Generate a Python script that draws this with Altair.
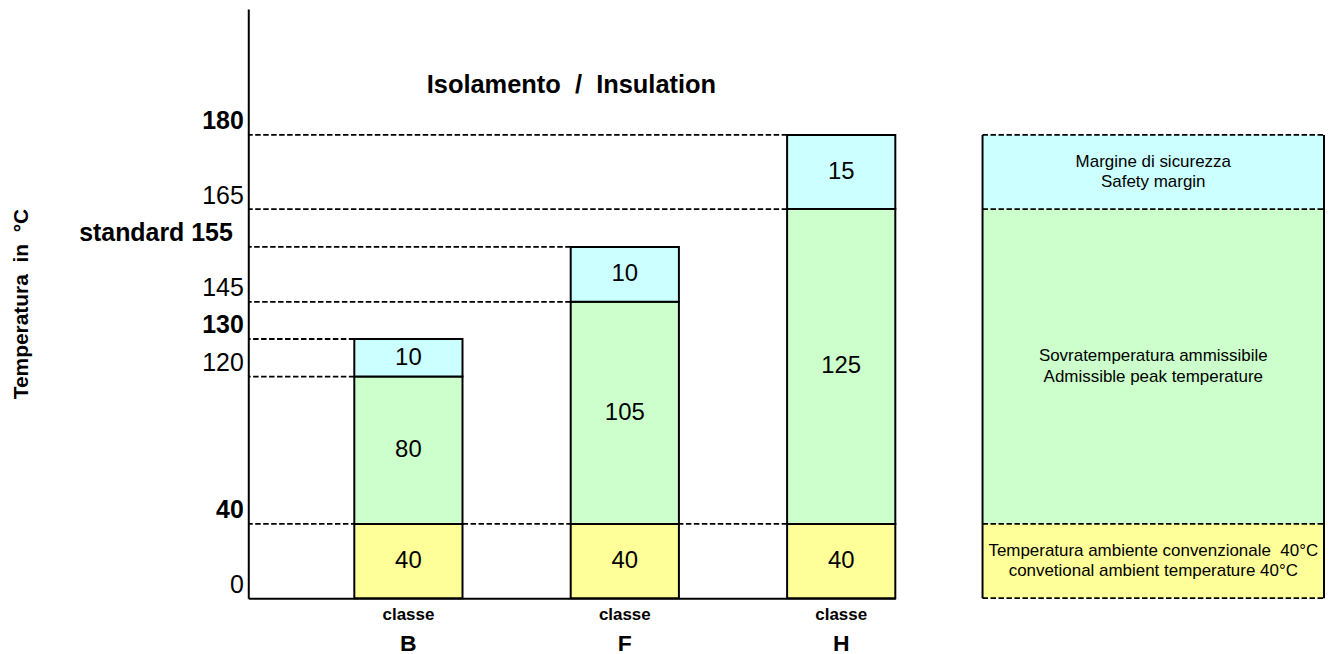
import altair as alt
import pandas as pd

# ---------------- data ----------------
categories = ["B", "F", "H"]
ambient = [40, 40, 40]
peak = [80, 105, 125]
margin = [10, 10, 15]

segment_names = ["ambient", "peak", "margin"]
segment_colors = ["#FFFF99", "#CCFFCC", "#CCFFFF"]

legend_texts = [
    ["Temperatura ambiente convenzionale\u00a0\u00a040°C", "convetional ambient temperature 40°C"],
    ["Sovratemperatura ammissibile", "Admissible peak temperature"],
    ["Margine di sicurezza", "Safety margin"],
]

tick_values = [0, 40, 120, 130, 145, 155, 165, 180]
bold_ticks = [40, 130, 155, 180]
tick_label_overrides = {155: "standard 155"}

y_title = "Temperatura\u00a0\u00a0in\u00a0\u00a0°C"
chart_title = "Isolamento\u00a0\u00a0/\u00a0\u00a0Insulation"
x_label_top = "classe"

# ---------------- tables ----------------
rows = []
for i, cat in enumerate(categories):
    start = 0
    for seg, val in zip(segment_names, [ambient[i], peak[i], margin[i]]):
        rows.append({"cat": cat, "seg": seg, "start": start, "end": start + val, "val": val})
        start += val
bars_df = pd.DataFrame(rows)

rules_df = (bars_df[["end", "cat"]].rename(columns={"end": "level", "cat": "stop"})
            .drop_duplicates("level", keep="last"))

last = bars_df[bars_df["cat"] == categories[-1]].reset_index(drop=True)
legend_df = last[["seg", "start", "end"]].copy()
legend_df["lines"] = legend_texts
legend_levels = pd.DataFrame({"level": [0] + list(last["end"])})
legend_sides = pd.DataFrame({"side": [0, 1], "lo": [0, 0], "hi": [last["end"].max()] * 2})

# ---------------- styling / scales ----------------
FONT = "Liberation Sans, Arial, sans-serif"
DASH = [5.5, 2.5]

yscale = alt.Scale(
    domain=[0, 40, 120, 130, 145, 155, 165, 180, 205],
    range=[591, 516.5, 368.7, 331, 293.7, 238.7, 200.7, 126.3, 0],
    zero=False, nice=False,
)
xscale = alt.Scale(domain=categories, range=[0, 649], paddingInner=0.5,
                   paddingOuter=0.245, align=1)
lscale = alt.Scale(domain=[0, 1], range=[736.5, 1079], zero=False, nice=False)
cscale = alt.Scale(domain=segment_names, range=segment_colors)

bold_test = " || ".join(f"datum.value == {v}" for v in bold_ticks)
override_test = " || ".join(f"datum.value == {k}" for k in tick_label_overrides)
label_expr = "datum.label"
for k, v in tick_label_overrides.items():
    label_expr = f"datum.value == {k} ? '{v}' : ({label_expr})"

yaxis = alt.Axis(
    values=tick_values, title=y_title, titleFont=FONT, titleFontSize=21,
    titleFontWeight="bold", titleColor="black", titlePadding=47, orient="left",
    labelExpr=label_expr, labelFont=FONT, labelFontSize=25, labelColor="black",
    labelFontWeight={"condition": {"test": bold_test, "value": "bold"}, "value": "normal"},
    labelPadding={"condition": {"test": override_test, "value": 16}, "value": 5},
    labelBaseline="alphabetic", labelOffset=-6, labelOverlap=False,
    labelBound=False, ticks=False, grid=False, domainColor="black", domainWidth=2,
)
classe_axis = alt.Axis(
    title=None, labelExpr=f"'{x_label_top}'", labelFont=FONT, labelFontSize=17,
    labelFontWeight="bold", labelColor="black", labelPadding=8, labelAngle=0,
    ticks=False, grid=False, domainColor="black", domainWidth=2, orient="bottom",
)
letter_axis = alt.Axis(
    title=None, labelFont=FONT, labelFontSize=23, labelFontWeight="bold",
    labelColor="black", labelPadding=5, offset=29, labelAngle=0,
    ticks=False, grid=False, domain=False, orient="bottom",
)
mid_expr = "(scale('y', datum.start) + scale('y', datum.end)) / 2"

# ---------------- left panel ----------------
rules = alt.Chart(rules_df).mark_rule(color="black", strokeWidth=1.8, strokeDash=DASH).encode(
    x=alt.X("stop:N", scale=xscale, bandPosition=0, axis=None),
    x2=alt.value(0),
    y=alt.Y("level:Q", scale=yscale, axis=yaxis),
)
bars = alt.Chart(bars_df).mark_bar(stroke="black", strokeWidth=2, opacity=1).encode(
    x=alt.X("cat:N", scale=xscale, axis=classe_axis),
    y=alt.Y("start:Q", scale=yscale, axis=yaxis),
    y2="end:Q",
    color=alt.Color("seg:N", scale=cscale, legend=None),
)
labels = alt.Chart(bars_df).mark_text(font=FONT, fontSize=24, color="black",
                                      align="center", baseline="middle").encode(
    x=alt.X("cat:N", scale=xscale, axis=letter_axis),
    y={"value": {"expr": mid_expr}},
    text=alt.Text("val:Q", format="d"),
)
left = alt.layer(rules, bars, labels).resolve_axis(x="independent")

# ---------------- legend panel ----------------
lrects = alt.Chart(legend_df).mark_rect(opacity=1).encode(
    x=alt.XDatum(0, scale=lscale, type="quantitative", axis=None),
    x2=alt.X2Datum(1),
    y=alt.Y("start:Q", scale=yscale, axis=yaxis),
    y2="end:Q",
    color=alt.Color("seg:N", scale=cscale, legend=None),
)
lrules = alt.Chart(legend_levels).mark_rule(color="black", strokeWidth=1.8, strokeDash=DASH).encode(
    x=alt.XDatum(0, scale=lscale, type="quantitative", axis=None),
    x2=alt.X2Datum(1),
    y=alt.Y("level:Q", scale=yscale, axis=yaxis),
)
lsides = alt.Chart(legend_sides).mark_rule(color="black", strokeWidth=2).encode(
    x=alt.X("side:Q", scale=lscale, axis=None),
    y=alt.Y("lo:Q", scale=yscale, axis=yaxis),
    y2="hi:Q",
)
ltext = alt.Chart(legend_df).mark_text(font=FONT, fontSize=17, color="black", lineHeight=21,
                                       align="center", baseline="middle", dy=-10.5).encode(
    x=alt.XDatum(0.5, scale=lscale, type="quantitative", axis=None),
    y={"value": {"expr": mid_expr}},
    text="lines",
)
legend = alt.layer(lrects, lrules, lsides, ltext)

chart = (
    alt.layer(left, legend)
    .resolve_scale(x="independent")
    .properties(
        width=1079, height=591,
        padding={"left": 2, "top": 0, "right": 0, "bottom": 0},
        title=alt.TitleParams(chart_title, anchor="start", frame="group", dx=179,
                              offset=-110, baseline="alphabetic", font=FONT,
                              fontSize=25.5, fontWeight="bold", color="black"),
    )
    .configure_view(stroke=None)
)

chart.save("out.html", embed_options={"renderer": "svg", "actions": False})
